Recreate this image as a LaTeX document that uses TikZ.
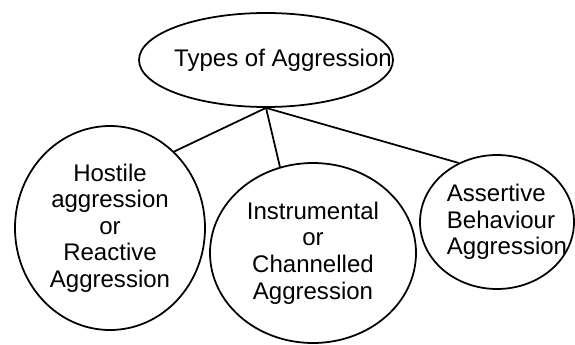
\documentclass[tikz,border=0pt]{standalone}
\usepackage{fontspec}
\setmainfont{Liberation Sans}
\usetikzlibrary{shapes.geometric}

\begin{document}
\begin{tikzpicture}[
      bubble/.style={ellipse,draw=black,line width=1.5pt,inner sep=0pt,
        font=\fontsize{20.5}{22.7}\selectfont,align=center},
      link/.style={draw=black,line width=1.5pt}
    ]
    \path[use as bounding box] (0,0) rectangle (17.25,10.32);

    % top ellipse, its text sits right of centre
    \node[bubble,minimum width=7.62cm,minimum height=2.82cm,
      label={[xshift=0.51cm,font=\fontsize{20.5}{22.7}\selectfont]center:Types of Aggression}]
      (types) at (7.98,8.52) {};

    \node[bubble,minimum width=5.7cm,minimum height=6.12cm] (hostile) at (3.30,3.48)
      {Hostile\\aggression\\or\\Reactive\\Aggression};
    \node[bubble,minimum width=6.18cm,minimum height=5.4cm] (instr) at (9.39,2.73)
      {Instrumental\\or\\Channelled\\Aggression};
    \node[bubble,minimum width=4.62cm,minimum height=4.02cm,
      label={[xshift=0.3cm,align=left,font=\fontsize{20.5}{22.7}\selectfont]center:Assertive\\Behaviour\\Aggression}]
      (assert) at (14.91,3.66) {};

    \draw[link] (types.south) -- (hostile.50);
    \draw[link] (types.south) -- (instr.111);
    \draw[link] (types.south) -- (assert.123.5);
  \end{tikzpicture}
\end{document}
